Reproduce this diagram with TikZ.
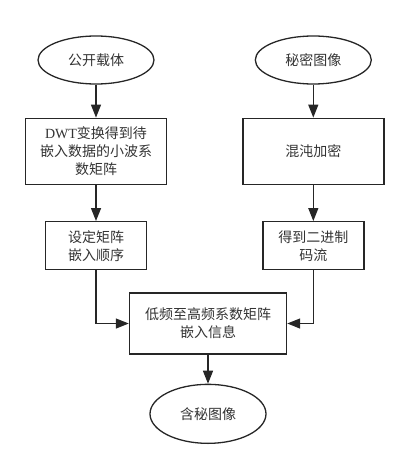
\documentclass[tikz,border=0pt]{standalone}
\usepackage{fontspec}
\setmainfont{Liberation Serif}
\newfontfamily\cjk{Noto Sans CJK SC}
\usetikzlibrary{shapes.geometric,arrows.meta,positioning}
\tikzset{block/.style = {draw, rectangle, line width = 1.4pt, inner sep = 0pt, align = center},
         term/.style = {draw, ellipse, line width = 1.3pt, inner sep = 0pt, minimum width = 116pt},
         arr/.style = {line width = 1.3pt, -{Triangle[width = 10pt, length = 13pt]}},
}

\begin{document}
\begin{tikzpicture}[x = 1pt, y = 1pt, color = black!85,
    font = \cjk\fontsize{14}{18}\selectfont, text = black!80]
  \useasboundingbox (0,0) rectangle (407,-468);

  \node[term, minimum height = 48pt] (CARRIER) at (96,-60) {公开载体};
  \node[term, minimum height = 48pt, right = 100pt of CARRIER] (SECRET) {秘密图像};

  \node[block, below = 33pt of CARRIER, minimum width = 141pt, minimum height = 66pt] (DWT)
    {{\rmfamily DWT}变换得到待\\嵌入数据的小波系\\数矩阵};
  \node[block, below = 36pt of DWT, minimum width = 101pt, minimum height = 48pt] (ORDER)
    {设定矩阵\\嵌入顺序};

  \node[block, below = 33pt of SECRET, minimum width = 141pt, minimum height = 66pt] (CHAOS)
    {混沌加密};
  \node[block, below = 36pt of CHAOS, minimum width = 101pt, minimum height = 48pt] (BITS)
    {得到二进制\\码流};

  \node[block, minimum width = 157pt, minimum height = 61pt] (EMBED) at (208,-323.5)
    {低频至高频系数矩阵\\嵌入信息};
  \node[term, minimum height = 59pt, below = 29pt of EMBED] (STEGO) {含秘图像};

  \draw[arr] (CARRIER) -- (DWT);
  \draw[arr] (DWT) -- (ORDER);
  \draw[arr] (SECRET) -- (CHAOS);
  \draw[arr] (CHAOS) -- (BITS);

  \draw[arr] (ORDER) |- (EMBED);
  \draw[arr] (BITS) |- (EMBED);

  \draw[arr] (EMBED) -- (STEGO);
\end{tikzpicture}
\end{document}
